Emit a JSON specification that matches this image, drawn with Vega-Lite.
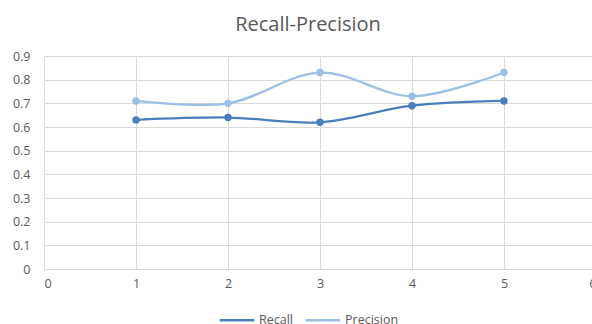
{
  "$schema": "https://vega.github.io/schema/vega-lite/v6.json",
  "autosize": {"type": "none"},
  "padding": {"left": 44, "top": 56, "right": 0, "bottom": 55},
  "width": 552,
  "height": 213,
  "background": "white",
  "title": {
    "text": "Recall-Precision",
    "font": "Open Sans",
    "fontSize": 20,
    "fontWeight": "normal",
    "color": "#595959",
    "anchor": "middle",
    "dx": -12,
    "offset": 15
  },
  "config": {
    "view": {"stroke": null},
    "axis": {
      "labelFont": "Open Sans",
      "labelFontSize": 12.5,
      "labelColor": "#595959",
      "gridColor": "#d9d9d9",
      "gridWidth": 1,
      "ticks": false,
      "domain": false,
      "title": null
    },
    "legend": {
      "labelFont": "Open Sans",
      "labelFontSize": 12.5,
      "labelColor": "#595959"
    }
  },
  "data": {
    "values": [
      {"x": 1, "series": "Recall", "value": 0.63},
      {"x": 2, "series": "Recall", "value": 0.64},
      {"x": 3, "series": "Recall", "value": 0.62},
      {"x": 4, "series": "Recall", "value": 0.69},
      {"x": 5, "series": "Recall", "value": 0.71},
      {"x": 1, "series": "Precision", "value": 0.71},
      {"x": 2, "series": "Precision", "value": 0.70},
      {"x": 3, "series": "Precision", "value": 0.83},
      {"x": 4, "series": "Precision", "value": 0.73},
      {"x": 5, "series": "Precision", "value": 0.83}
    ]
  },
  "encoding": {
    "x": {
      "field": "x",
      "type": "quantitative",
      "scale": {"domain": [0, 6], "nice": false},
      "axis": {"values": [0, 1, 2, 3, 4, 5, 6], "labelPadding": 8, "format": "d"}
    },
    "y": {
      "field": "value",
      "type": "quantitative",
      "scale": {"domain": [0, 0.9], "nice": false},
      "axis": {"values": [0, 0.1, 0.2, 0.3, 0.4, 0.5, 0.6, 0.7, 0.8, 0.9], "labelPadding": 14, "format": "~g"}
    },
    "color": {
      "field": "series",
      "type": "nominal",
      "sort": ["Recall", "Precision"],
      "scale": {"domain": ["Recall", "Precision"], "range": ["#4a7fbc", "#9cbfe5"]},
      "legend": {
        "orient": "none",
        "direction": "horizontal",
        "legendX": 174,
        "legendY": 245,
        "title": null,
        "symbolType": "stroke",
        "symbolStrokeWidth": 2.5,
        "symbolSize": 1200,
        "columnPadding": 7,
        "labelOffset": 3
      }
    }
  },
  "layer": [
    {
      "mark": {"type": "line", "interpolate": "catmull-rom", "strokeWidth": 2.25}
    },
    {
      "mark": {"type": "point", "filled": true, "opacity": 1, "size": 55}
    }
  ]
}
